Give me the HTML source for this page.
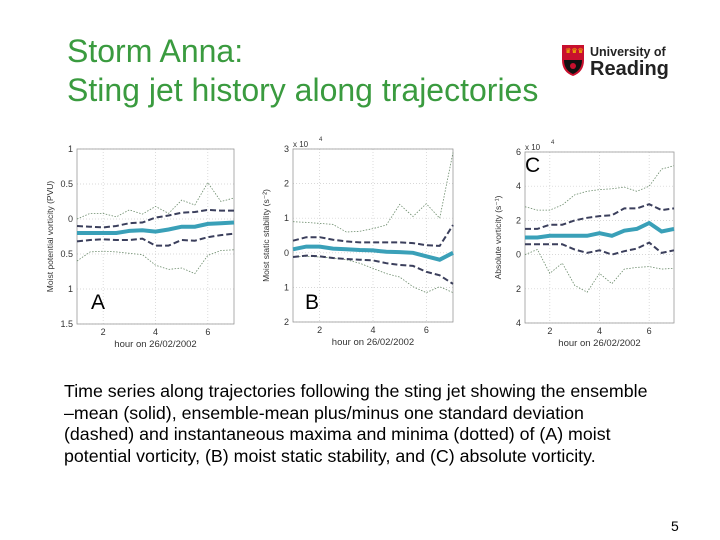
<!DOCTYPE html>
<html><head><meta charset="utf-8"><style>
body{margin:0;width:720px;height:540px;background:#fff;position:relative;overflow:hidden;font-family:"Liberation Sans",sans-serif}
.title{position:absolute;left:67px;top:32px;color:#3a9b3f;font-size:32px;line-height:39px}
.cap{position:absolute;left:64px;top:381px;width:593px;font-size:17.8px;line-height:21.5px;color:#000}
.pn{position:absolute;left:671px;top:518px;font-size:14px}
</style></head><body>
<div class="title">Storm Anna:<br>Sting jet history along trajectories</div>
<svg style="position:absolute;left:560px;top:42px" width="110" height="38">
<path d="M2,3 H24 V18 Q24,30 13,34 Q2,30 2,18 Z" fill="#c8102e"/>
<rect x="2" y="3" width="22" height="10" fill="#c8102e"/>
<path d="M4,18 H22 Q22,28 13,32 Q4,28 4,18Z" fill="#111"/>
<circle cx="13" cy="24" r="3" fill="#c8102e"/>
<text x="5" y="11" font-size="7" fill="#f2c200">♛♛♛</text>
<text x="30" y="14" font-size="12.5" font-weight="bold" fill="#222">University of</text>
<text x="30" y="33" font-size="20" font-weight="bold" fill="#222">Reading</text>
</svg>
<svg id="charts" width="720" height="540" style="position:absolute;left:0;top:0"></svg>
<div class="cap">Time series along trajectories following the sting jet showing the ensemble <span style="white-space:nowrap">–mean</span> (solid), ensemble-mean plus/minus one standard deviation (dashed) and instantaneous maxima and minima (dotted) of (A) moist potential vorticity, (B) moist static stability, and (C) absolute vorticity.</div>
<div class="pn">5</div>
<script>
const hours=[1,1.5,2,2.5,3,3.5,4,4.5,5,5.5,6,6.5,7];
const xTicks=[2,4,6];
const aMean=[-0.2,-0.2,-0.2,-0.2,-0.17,-0.16,-0.18,-0.15,-0.11,-0.11,-0.07,-0.06,-0.05];
const aUp=[-0.1,-0.11,-0.12,-0.1,-0.06,-0.05,0.02,0.05,0.09,0.1,0.13,0.12,0.12];
const aLo=[-0.32,-0.3,-0.29,-0.3,-0.3,-0.28,-0.38,-0.38,-0.3,-0.31,-0.26,-0.23,-0.21];
const aMax=[0,0.08,0.08,0.03,0.13,0.07,0.18,0.08,0.27,0.2,0.52,0.25,0.3];
const aMin=[-0.6,-0.47,-0.46,-0.47,-0.49,-0.51,-0.66,-0.72,-0.7,-0.78,-0.52,-0.45,-0.44];
const aTicks=[1,0.5,0,-0.5,-1,-1.5];
const aTickLabels=["1","0.5","0","0.5","1","1.5"];
const bMean=[0.1,0.18,0.18,0.12,0.1,0.08,0.07,0.03,0.02,0,-0.1,-0.2,0];
const bUp=[0.35,0.45,0.45,0.38,0.33,0.3,0.3,0.3,0.3,0.28,0.22,0.2,0.8];
const bLo=[-0.12,-0.08,-0.1,-0.15,-0.18,-0.2,-0.22,-0.3,-0.35,-0.38,-0.55,-0.65,-0.9];
const bMax=[0.9,0.88,0.85,0.82,0.6,0.62,0.7,0.8,1.4,1.05,1.42,1.0,2.9];
const bMin=[-0.12,-0.1,-0.12,-0.15,-0.2,-0.3,-0.45,-0.6,-0.7,-0.98,-1.15,-0.98,-1.15];
const bTicks=[3,2,1,0,-1,-2];
const bTickLabels=["3","2","1","0","1","2"];
const cMean=[1.0,1.0,1.1,1.1,1.1,1.1,1.25,1.1,1.4,1.5,1.85,1.35,1.5];
const cUp=[1.5,1.5,1.75,1.75,2.0,2.15,2.25,2.3,2.7,2.7,2.95,2.6,2.7];
const cLo=[0.6,0.6,0.6,0.6,0.3,0.1,0.25,0.0,0.2,0.35,0.7,0.1,0.25];
const cMax=[2.8,2.6,2.6,2.9,3.5,3.7,3.8,3.85,3.95,3.7,4.0,5.0,5.2];
const cMin=[0,0.3,-1.1,-0.5,-1.8,-2.2,-1.1,-1.7,-0.85,-0.75,-0.7,-0.85,-0.8];
const cTicks=[6,4,2,0,-2,-4];
const cTickLabels=["6","4","2","0","2","4"];

const svg=document.getElementById('charts');
const NS='http://www.w3.org/2000/svg';
function mk(tag,attrs,parent){const e=document.createElementNS(NS,tag);for(const k in attrs)e.setAttribute(k,attrs[k]);parent.appendChild(e);return e;}
function chart(id,box,ymax,ymin,ticks,labels,series,ytitle,letter,lx,ly,exp){
  const g=mk('g',{},svg);
  
  
  const X=v=>box.x0+(v-1)/6*(box.x1-box.x0);
  const Y=v=>box.y0+(ymax-v)/(ymax-ymin)*(box.y1-box.y0);
  ticks.forEach((t,i)=>{
    const gl=mk('line',{x1:box.x0,x2:box.x1,y1:Y(t),y2:Y(t),stroke:'#ccc','stroke-dasharray':'1,2','stroke-width':0.7},g);
    
    
    const tx=mk('text',{x:box.x0-4,y:Y(t)+3,'font-size':9,'text-anchor':'end',fill:'#333'},g);
    tx.textContent=labels[i];
    
    
  });
  xTicks.forEach(t=>{
    const gl=mk('line',{x1:X(t),x2:X(t),y1:box.y0,y2:box.y1,stroke:'#ccc','stroke-dasharray':'1,2','stroke-width':0.7},g);
    
    
    const tx=mk('text',{x:X(t),y:box.y1+11,'font-size':9,'text-anchor':'middle',fill:'#333'},g);
    tx.textContent=String(t);
    
    
  });
  const fr=mk('rect',{x:box.x0,y:box.y0,width:box.x1-box.x0,height:box.y1-box.y0,fill:'none',stroke:'#999','stroke-width':0.8},g);
  
  
  const styles=[
    {d:series[3],stroke:'#6a8a6a',w:0.8,dash:'1.5,1.5',n:'max-line'},
    {d:series[4],stroke:'#6a8a6a',w:0.8,dash:'1.5,1.5',n:'min-line'},
    {d:series[1],stroke:'#3b3f5c',w:2,dash:'6,3',n:'upper-std-line'},
    {d:series[2],stroke:'#3b3f5c',w:2,dash:'6,3',n:'lower-std-line'},
    {d:series[0],stroke:'#3aa0b8',w:4,dash:'',n:'mean-line'}];
  styles.forEach(s=>{
    const pts=s.d.map((v,i)=>X(hours[i]).toFixed(1)+','+Y(v).toFixed(1)).join(' ');
    const p=mk('polyline',{points:pts,fill:'none',stroke:s.stroke,'stroke-width':s.w,'stroke-dasharray':s.dash},g);
    
    
  });
  const cy=(box.y0+box.y1)/2;
  const yt=mk('text',{x:0,y:0,'font-size':8.5,'text-anchor':'middle',fill:'#333',transform:`translate(${box.x0-24},${cy}) rotate(-90)`},g);
  yt.textContent=ytitle;
  
  
  const xt=mk('text',{x:(box.x0+box.x1)/2,y:box.y1+23,'font-size':9.5,'text-anchor':'middle',fill:'#333'},g);
  xt.textContent='hour on 26/02/2002';
  
  
  if(exp){const e=mk('text',{x:box.x0,y:box.y0-2,'font-size':8,fill:'#333'},g);e.textContent='x 10';
    
    
    const e2=mk('text',{x:box.x0+26,y:box.y0-8,'font-size':6,fill:'#333'},g);e2.textContent='4';}
  const L=mk('text',{x:lx,y:ly,'font-size':21,fill:'#000'},g);
  L.textContent=letter;
  
  
}
chart('chart-a',{x0:77,x1:234,y0:149,y1:324},1,-1.5,aTicks,aTickLabels,[aMean,aUp,aLo,aMax,aMin],'Moist potential vorticity (PVU)','A',91,309,false);
chart('chart-b',{x0:293,x1:453,y0:149,y1:322},3,-2,bTicks,bTickLabels,[bMean,bUp,bLo,bMax,bMin],'Moist static stability (s⁻²)','B',305,309,true);
chart('chart-c',{x0:525,x1:674,y0:152,y1:323},6,-4,cTicks,cTickLabels,[cMean,cUp,cLo,cMax,cMin],'Absolute vorticity (s⁻¹)','C',525,172,true);
</script>
</body></html>
